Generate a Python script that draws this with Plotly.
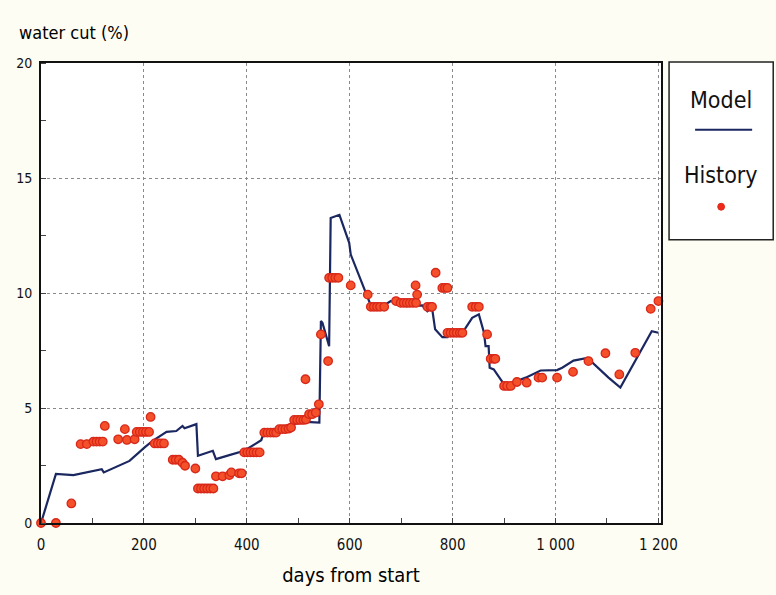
import plotly.graph_objects as go

model_days = [0, 29, 63, 118, 122, 172, 202, 217, 244, 263, 275, 279, 302, 305, 334, 340, 366, 395,
              428, 431, 463, 489, 515, 541, 544, 547, 560, 563, 580, 599, 602, 631, 641, 664, 680,
              709, 741, 751, 760, 766, 780, 790, 793, 819, 838, 851, 861, 864, 870, 872, 880, 900,
              909, 942, 971, 1003, 1013, 1035, 1062, 1103, 1126, 1187, 1200]
model_wc = [0, 2.13, 2.08, 2.34, 2.2, 2.7, 3.3, 3.57, 3.96, 4.0, 4.22, 4.12, 4.3, 2.92, 3.14, 2.78, 2.95, 3.14,
            3.6, 3.79, 4.0, 4.3, 4.4, 4.37, 8.78, 8.7, 7.69, 13.26, 13.4, 12.18, 11.67, 10.08, 9.46, 9.43, 9.65,
            9.43, 9.46, 9.21, 9.36, 8.42, 8.08, 8.08, 8.27, 8.27, 8.92, 9.07, 8.27, 7.69, 7.69, 6.75, 6.68, 6.03,
            6.03, 6.32, 6.63, 6.65, 6.75, 7.06, 7.18, 6.32, 5.89, 8.34, 8.27]

hist_days = [0, 29, 59, 77, 89, 102, 108, 114, 120, 124, 150, 163, 167, 182, 186, 192, 198, 204, 210, 213,
             221, 227, 233, 239, 256, 262, 268, 275, 280, 300, 305, 311, 317, 323, 329, 335,
             340, 353, 366, 370, 385, 390, 395, 401, 407, 413, 419, 425, 434, 440, 446, 452, 457,
             463, 469, 475, 481, 486, 492, 498, 504, 510, 515, 514, 521, 527, 534, 540, 544, 558,
             560, 566, 572, 578, 602, 635, 641, 647, 653, 659, 667, 690, 699, 705, 711, 717, 723, 729,
             728, 731, 751, 757, 760, 767, 780, 785, 790, 790, 796, 802, 808, 814, 819, 838, 845, 851,
             867, 874, 880, 883, 900, 906, 913, 925, 944, 967, 974, 1003, 1034, 1064, 1097, 1124, 1155,
             1185, 1200]
hist_wc = [0, 0, 0.85, 3.43, 3.43, 3.54, 3.54, 3.54, 3.54, 4.22, 3.64, 4.08, 3.61, 3.64, 3.96, 3.96, 3.96, 3.96, 3.96, 4.61,
           3.46, 3.46, 3.46, 3.46, 2.75, 2.75, 2.75, 2.62, 2.49, 2.37, 1.5, 1.5, 1.5, 1.5, 1.5, 1.5,
           2.03, 2.03, 2.08, 2.2, 2.16, 2.16, 3.07, 3.07, 3.07, 3.07, 3.07, 3.07, 3.93, 3.93, 3.93, 3.93, 3.93,
           4.08, 4.08, 4.08, 4.1, 4.15, 4.48, 4.48, 4.48, 4.48, 4.5, 6.25, 4.73, 4.73, 4.8, 5.16, 8.2, 7.04,
           10.66, 10.66, 10.66, 10.66, 10.33, 9.93, 9.4, 9.4, 9.4, 9.4, 9.4, 9.65, 9.57, 9.57, 9.57, 9.57, 9.57, 9.57,
           10.33, 9.93, 9.4, 9.4, 9.4, 10.88, 10.22, 10.22, 10.22, 8.27, 8.27, 8.27, 8.27, 8.27, 8.27, 9.4, 9.4, 9.4,
           8.2, 7.14, 7.14, 7.14, 5.96, 5.96, 5.96, 6.13, 6.1, 6.32, 6.32, 6.32, 6.57, 7.04, 7.38, 6.46, 7.4,
           9.31, 9.65]

x_tickvals = [0, 200, 400, 600, 800, 1000, 1200]
x_ticktext = ["0", "200", "400", "600", "800", "1 000", "1 200"]
y_tickvals = [0, 5, 10, 15, 20]
y_ticktext = ["0", "5", "10", "15", "20"]

FONT = "DejaVu Sans Condensed, Liberation Sans Narrow, Liberation Sans, Arial, sans-serif"
RED = "#f4502a"
NAVY = "#1b2760"

fig = go.Figure()
fig.add_trace(go.Scatter(x=model_days, y=model_wc, mode="lines", name="Model",
                         line=dict(color=NAVY, width=2.2), showlegend=False))
fig.add_trace(go.Scatter(x=hist_days, y=hist_wc, mode="markers", name="History",
                         marker=dict(color=RED, size=8.5, line=dict(color="#d8281a", width=1.3)),
                         showlegend=False, cliponaxis=False))

fig.update_layout(
    width=776, height=595,
    margin=dict(l=41, r=115, t=63, b=68),
    paper_bgcolor="#fdfdf3",
    plot_bgcolor="white",
    font=dict(family=FONT, color="#111", size=14),
    xaxis=dict(range=[0, 1205], tickvals=x_tickvals, ticktext=x_ticktext, showgrid=True,
               gridcolor="#8a8a8a", griddash="dot", gridwidth=1, zeroline=False,
               showline=True, linecolor="#111", linewidth=2, mirror=True,
               ticks="outside", ticklen=7, tickcolor="rgba(0,0,0,0)",
               tickfont=dict(size=15, family=FONT, color="#111"),
               minor=dict(dtick=100, ticks="inside", ticklen=5, tickcolor="#444", showgrid=False),
               title=dict(text="days from start", font=dict(size=20, family=FONT, color="#000"), standoff=15)),
    yaxis=dict(range=[0, 20], tickvals=y_tickvals, ticktext=y_ticktext, showgrid=True,
               gridcolor="#8a8a8a", griddash="dot", gridwidth=1, zeroline=False,
               showline=True, linecolor="#111", linewidth=2, mirror=True,
               ticks="outside", ticklen=4, tickcolor="rgba(0,0,0,0)",
               tickfont=dict(size=14, family=FONT, color="#111"),
               minor=dict(dtick=2.5, ticks="inside", ticklen=5, tickcolor="#444", showgrid=False)),
)

# y axis title at top-left
fig.add_annotation(text="water cut (%)", xref="paper", yref="paper", x=-0.038, y=1.067,
                   xanchor="left", yanchor="middle", showarrow=False,
                   font=dict(size=18, family=FONT, color="#000"))

# legend drawn as a box
fig.add_shape(type="rect", xref="paper", yref="paper", x0=1.013, x1=1.181, y0=0.616, y1=1.002,
              line=dict(color="#222", width=1.5), fillcolor="white", layer="below")
fig.add_annotation(text="Model", xref="paper", yref="paper", x=1.097, y=0.92, showarrow=False,
                   xanchor="center", yanchor="middle", font=dict(size=23, family=FONT, color="#111"))
fig.add_shape(type="line", xref="paper", yref="paper", x0=1.055, x1=1.147, y0=0.855, y1=0.855,
              line=dict(color=NAVY, width=2))
fig.add_annotation(text="History", xref="paper", yref="paper", x=1.097, y=0.757, showarrow=False,
                   xanchor="center", yanchor="middle", font=dict(size=23, family=FONT, color="#111"))
fig.add_shape(type="circle", xref="paper", yref="paper", x0=1.0915, x1=1.1025, y0=0.680, y1=0.695,
              line=dict(color="#dc2a18", width=1), fillcolor="#ee2a1a")

fig.write_html("out.html", config={"displayModeBar": False},
               post_script="document.body.style.margin='0';")
